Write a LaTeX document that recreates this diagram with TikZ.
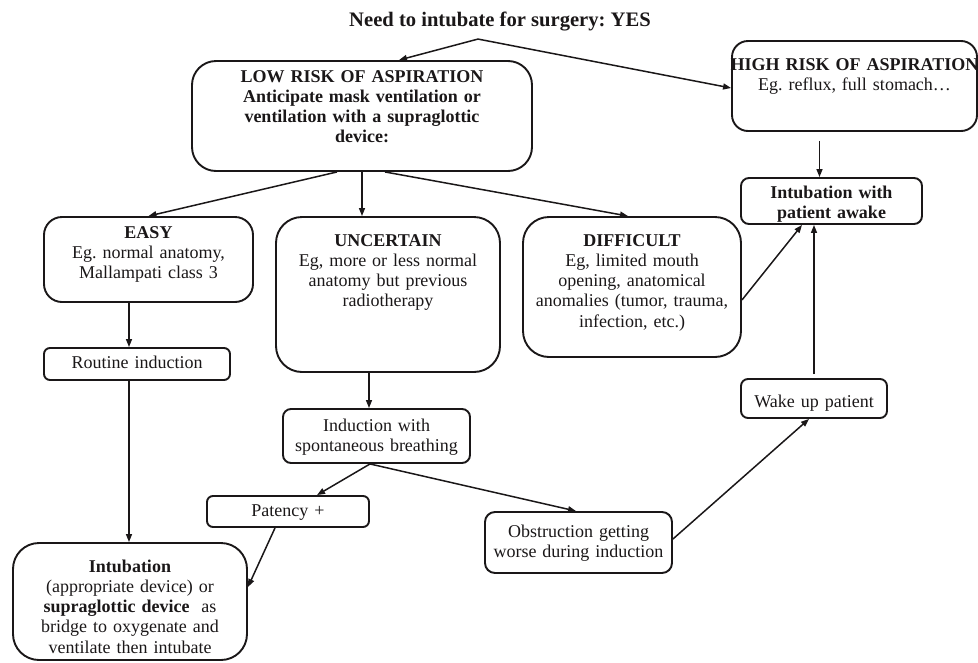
\documentclass[tikz,border=0pt]{standalone}
\usepackage{fontspec}
\setmainfont{Liberation Serif}
\usetikzlibrary{arrows.meta}
\definecolor{ink}{HTML}{1A1718}
\newcommand{\flowfont}{\fontsize{18}{20.3}\selectfont}
\frenchspacing
\begin{document}
\begin{tikzpicture}[x=1pt,y=1pt,color=ink,
    box/.style={draw,line width=1.9pt,align=center,inner sep=0pt,font=\flowfont},
    arr/.style={-{Triangle[length=8pt,width=6pt]},line width=1.5pt}]
    \useasboundingbox (0,0) rectangle (978,-662);

    \node[font=\bfseries\fontsize{20.6}{24}\selectfont] (title) at (500,-22) {Need to intubate for surgery: YES};
    \coordinate (split) at ([shift={(-22,-4)}]title.south);

    \node[box,font=\flowfont\bfseries,text width=340pt,text height=21pt,text depth=89pt,rounded corners=24pt] (low) [below of=title,node distance=94pt,xshift=-138pt] {LOW RISK OF ASPIRATION\\Anticipate mask ventilation or\\ventilation with a supraglottic\\device:};
    \node[box,text width=245pt,text height=29pt,text depth=61pt,rounded corners=16pt] (high) [right of=low,node distance=492.5pt,yshift=30pt] {\makebox[0pt]{\textbf{HIGH RISK OF ASPIRATION}}\\Eg. reflux, full stomach…};
    \node[box,font=\flowfont\bfseries,text width=181pt,text height=20pt,text depth=26pt,rounded corners=8pt] (awake) [below of=high,node distance=115pt,xshift=-23pt] {Intubation with\\patient awake};

    \node[box,text width=224pt,text height=29pt,text depth=126pt,rounded corners=26pt] (uncertain) [below of=low,node distance=178.5pt,xshift=26pt] {\textbf{UNCERTAIN}\\Eg, more or less normal\\anatomy but previous\\radiotherapy};
    \node[box,text width=209pt,text height=21pt,text depth=64pt,rounded corners=18pt] (easy) [left of=uncertain,node distance=239.5pt,yshift=35pt] {\textbf{EASY}\\Eg. normal anatomy,\\Mallampati class 3};
    \node[box,text width=218pt,text height=29pt,text depth=111pt,rounded corners=26pt] (difficult) [right of=uncertain,node distance=244pt,yshift=7.5pt] {\textbf{DIFFICULT}\\Eg, limited mouth\\opening, anatomical\\anomalies (tumor, trauma,\\infection, etc.)};

    \node[box,text width=186pt,text height=20pt,text depth=12pt,rounded corners=6pt] (routine) [below of=easy,node distance=104.5pt,xshift=-11.5pt] {Routine induction};
    \node[box,text width=234pt,text height=29pt,text depth=88pt,rounded corners=26pt] (intub) [below of=routine,node distance=237.5pt,xshift=-7pt] {\textbf{Intubation}\\(appropriate device) or\\\textbf{supraglottic device}~ as\\bridge to oxygenate and\\ventilate then intubate};

    \node[box,text width=187pt,text height=22pt,text depth=32pt,rounded corners=8pt] (induction) [below of=uncertain,node distance=141.5pt,xshift=-11.5pt] {Induction with\\spontaneous breathing};
    \node[box,text width=162pt,text height=20pt,text depth=11pt,rounded corners=6pt] (patency) [below of=induction,node distance=75.5pt,xshift=-88.5pt] {Patency +};
    \node[box,text width=187pt,text height=25pt,text depth=36pt,rounded corners=10pt] (obstruct) [below of=induction,node distance=106.5pt,xshift=202pt] {Obstruction getting\\worse during induction};
    \node[box,text width=146pt,text height=28pt,text depth=11pt,rounded corners=7pt] (wake) [below of=awake,node distance=197.5pt,xshift=-17.5pt] {Wake up patient};

    % top split
    \draw[arr] (split) -- ([xshift=37pt]low.north);
    \draw[arr] (split) -- ([yshift=-2pt]high.west);

    % low risk branches
    \draw[arr] ([xshift=-25pt]low.south) -- (easy.north);
    \draw[arr] (low.south) -- (low.south |- uncertain.north);
    \draw[arr] ([xshift=23pt]low.south) -- ([xshift=-4pt]difficult.north);

    % high risk / awake
    \draw[arr] ([shift={(-35pt,-9pt)}]high.south) -- ([xshift=-12pt]awake.north);
    \draw[arr] ([yshift=-13pt]difficult.east) -- ([xshift=-29.5pt]awake.south);
    \draw[arr] ([yshift=4pt]wake.north) -- (wake.north |- awake.south);

    % easy path
    \draw[arr] ([xshift=-19.5pt]easy.south) -- ([xshift=-8pt]routine.north);
    \draw[arr] ([xshift=-8pt]routine.south) -- ([xshift=-1pt]intub.north);

    % uncertain path
    \draw[arr] ([xshift=-19pt]uncertain.south) -- ([xshift=-7.5pt]induction.north);
    \draw[arr] ([xshift=-6.5pt]induction.south) -- ([xshift=29pt]patency.north);
    \draw[arr] ([xshift=-6.5pt]induction.south) -- ([xshift=-2.5pt]obstruct.north);
    \draw[arr] ([xshift=-13pt]patency.south) -- ([yshift=14.5pt]intub.east);
    \draw[arr] ([yshift=3.5pt]obstruct.east) -- ([xshift=-5pt]wake.south);
\end{tikzpicture}
\end{document}
